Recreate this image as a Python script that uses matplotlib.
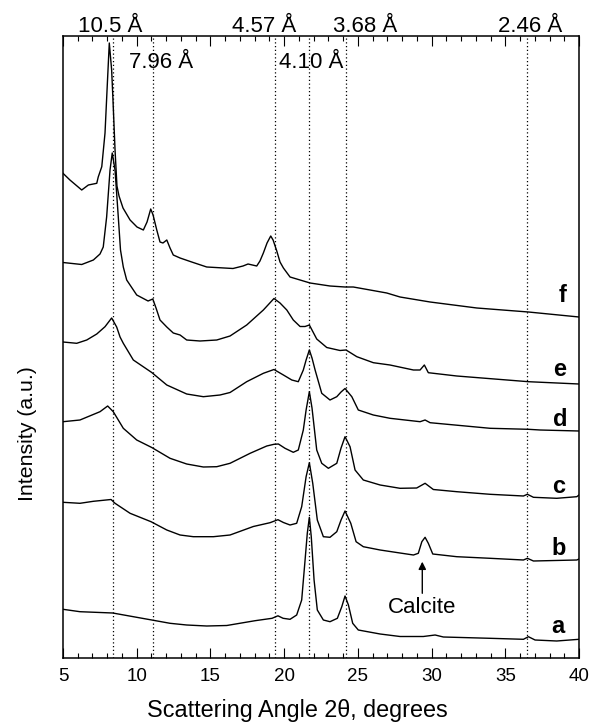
import numpy as np
import matplotlib
matplotlib.use('Agg')
import matplotlib.pyplot as plt
from matplotlib.ticker import MultipleLocator

plt.rcParams['font.family'] = ['Liberation Sans', 'DejaVu Sans']

# ── Data (intensities already stacked, a.u.) ──────────────────────────────────
tt_f = [5.0, 5.47, 6.27, 6.72, 7.29, 7.39, 7.63, 7.85, 8.01, 8.14, 8.30, 8.39, 8.53, 8.66, 8.80,
        9.07, 9.55, 10.02, 10.45, 10.70, 10.95, 11.11, 11.36, 11.58, 11.78, 12.04, 12.26, 12.48,
        12.94, 13.73, 14.75, 16.53, 17.21, 17.55, 18.14, 18.36, 18.59, 18.84, 19.09, 19.25, 19.50,
        19.72, 19.95, 20.40, 21.08, 21.76, 23.11, 24.13, 24.69, 25.83, 26.96, 27.86, 29.90, 33.07,
        36.57, 40.0]
i_f = [484.7, 478, 468, 473, 474.7, 481, 491.3, 525, 575, 615, 588, 558, 508, 472, 462,
       450, 438, 431, 428, 436, 449, 443, 428, 416, 415, 418, 410, 403,
       400, 396, 391, 389.5, 392, 394, 392, 397, 405, 415, 422, 418, 407,
       396, 390, 381, 378, 375, 372, 371, 371, 368, 365, 361, 356, 350,
       346, 341]

tt_e = [5.0, 6.27, 7.06, 7.51, 7.73, 7.96, 8.19, 8.34, 8.53, 8.75, 8.90, 9.09, 9.32, 10.00, 10.45,
        10.77, 11.09, 11.31, 11.58, 12.04, 12.48, 12.94, 13.39, 14.29, 15.43, 16.33, 17.46, 18.59,
        19.31, 19.72, 20.18, 20.62, 21.08, 21.42, 21.71, 22.21, 22.89, 23.79, 24.20, 24.93, 26.05,
        27.18, 28.77, 29.22, 29.51, 29.78, 31.71, 36.57, 40.0]
i_e = [395.5, 393.5, 398, 404, 411, 441, 488, 505, 488, 441, 408, 391, 378, 363, 359.5,
       357, 359, 350, 338, 331, 325, 323, 318, 317, 318, 322, 333, 348,
       359.5, 355, 348, 338, 331.5, 331.5, 333, 319, 310.5, 307.5, 308, 301.3, 295.3,
       293, 288, 288, 293, 285.3, 282, 276.3, 274]

tt_d = [5.0, 5.93, 6.61, 7.29, 7.85, 8.30, 8.64, 8.87, 9.09, 9.77, 11.02, 12.04, 13.39, 14.52,
        15.65, 16.33, 17.46, 18.59, 19.31, 19.95, 20.52, 20.96, 21.30, 21.49, 21.71, 21.89, 22.10,
        22.55, 23.11, 23.57, 23.86, 24.13, 24.59, 25.03, 26.05, 27.18, 29.22, 29.56, 29.90, 33.97,
        36.57, 37.36, 40.0]
i_d = [316, 314.7, 318, 324, 331.3, 340, 331, 321, 314.7, 298, 285.5, 273, 264, 261.3,
       263, 265.5, 276.3, 284.7, 288.5, 283, 278, 276.3, 288, 298, 308, 300, 288,
       264.7, 258, 261.3, 266, 269.5, 261.3, 248, 243, 239.7, 236.3, 238, 235.3, 229.7,
       228.7, 228, 227]

tt_c = [5.0, 6.15, 7.51, 8.03, 8.41, 9.09, 10.00, 11.02, 12.26, 13.39, 14.52, 15.43, 16.33, 17.69,
        18.82, 19.31, 19.61, 20.06, 20.62, 20.96, 21.30, 21.49, 21.71, 21.89, 22.21, 22.55, 23.00,
        23.57, 23.86, 24.13, 24.47, 24.81, 25.37, 26.51, 27.86, 28.99, 29.56, 30.12, 31.71, 33.97,
        36.23, 36.50, 36.91, 38.49, 39.85, 40.0]
i_c = [236.3, 238, 246.3, 252, 246.3, 229.7, 218, 210.5, 199.7, 194, 191, 191.3, 194.7, 204.7,
       212, 213.7, 214, 209.7, 205.7, 208, 228, 248, 266.3, 250, 208, 194.7, 189.7,
       194.7, 210, 221.3, 211.3, 188, 178, 173, 169.7, 170, 174.7, 168.5, 166.3, 163.7,
       162, 163.7, 160.7, 159.7, 161.3, 163]

tt_b = [5.0, 6.15, 7.06, 8.26, 8.53, 9.55, 10.97, 12.04, 12.94, 13.84, 15.20, 16.33, 17.91, 19.04,
        19.58, 19.95, 20.40, 20.85, 21.19, 21.49, 21.71, 21.94, 22.25, 22.66, 23.11, 23.57, 23.86,
        24.13, 24.52, 24.88, 25.37, 26.51, 27.86, 28.77, 29.10, 29.34, 29.56, 29.78, 30.08, 31.71,
        33.97, 36.23, 36.50, 36.91, 39.85, 40.0]
i_b = [155.7, 154.7, 156.7, 158.5, 154.7, 144.7, 136.3, 128, 123, 121.3, 121.3, 123, 131.5, 135.3,
       138.3, 135.5, 133, 134.7, 151.3, 181.3, 195.3, 174.7, 138, 121.3, 120.7, 126.3, 138,
       147, 134.7, 116.3, 111.3, 108, 105, 103, 104.7, 116.3, 120.7, 114.7, 104, 101.3,
       99.7, 98, 99.7, 97, 98, 99]

tt_a = [5.0, 6.15, 8.37, 9.77, 11.02, 12.26, 13.39, 14.75, 16.11, 18.03, 19.18, 19.58, 19.93, 20.40,
        20.85, 21.19, 21.42, 21.57, 21.71, 21.84, 22.03, 22.25, 22.66, 23.11, 23.61, 23.91, 24.13,
        24.36, 24.65, 25.03, 26.51, 27.86, 29.44, 30.24, 30.80, 33.97, 36.23, 36.57, 37.02, 38.49,
        40.0]
i_a = [48.7, 46.3, 45, 41.3, 38, 34.7, 33, 32, 32.5, 37.3, 39.7, 42.2, 39.7, 38.7,
       43, 58, 98, 124.7, 140.7, 121.3, 78, 48, 38, 36.3, 39.7, 51.3, 62,
       53, 34.7, 28, 24, 21.5, 21.5, 23, 21, 19.7, 18.7, 21.3, 18, 17,
       18.7]

curve_labels = ['a', 'b', 'c', 'd', 'e', 'f']
label_pos_x = [38.6, 38.6, 38.6, 38.7, 38.7, 38.9]
label_pos_y = [31.3, 109.7, 171.3, 239, 289, 362.7]

# d-spacings marked with dotted lines (Cu K-alpha)
d_spacings = [10.5, 7.96, 4.57, 4.10, 3.68, 2.46]
WAVELENGTH = 1.5406
two_theta_marks = [2 * np.degrees(np.arcsin(WAVELENGTH / (2 * d))) for d in d_spacings]

# ── Plot ──────────────────────────────────────────────────────────────────────
fig = plt.figure(figsize=(5.91, 7.26), dpi=100)
ax = fig.add_axes([63 / 591, 68 / 726, 516 / 591, 622 / 726])

curves = [(tt_a, i_a), (tt_b, i_b), (tt_c, i_c), (tt_d, i_d), (tt_e, i_e), (tt_f, i_f)]
for (tt, ii) in curves:
    ax.plot(tt, ii, color='black', lw=1.0, solid_joinstyle='round')

for tt in two_theta_marks:
    ax.axvline(tt, color='black', lw=0.9, linestyle=(0, (1, 2)))

for lbl, x, y in zip(curve_labels, label_pos_x, label_pos_y):
    ax.text(x, y, lbl, fontsize=17, fontweight='bold', ha='center', va='center')

# d-spacing labels: top row above the frame, second row just inside
top_row = [(8.19, '10.5 Å'), (18.67, '4.57 Å'), (25.49, '3.68 Å'), (36.68, '2.46 Å')]
for x, s in top_row:
    ax.text(x, 625.5, s, fontsize=16, ha='center', va='baseline', clip_on=False)
inner_row = [(11.65, '7.96 Å'), (21.82, '4.10 Å')]
for x, s in inner_row:
    ax.text(x, 589.7, s, fontsize=16, ha='center', va='baseline')

# calcite marker on curve b
ax.annotate('', xy=(29.37, 96.3), xytext=(29.37, 64.7),
            arrowprops=dict(arrowstyle='-|>', color='black', lw=1.0,
                            mutation_scale=11, shrinkA=0, shrinkB=0))
ax.text(29.38, 50.7, 'Calcite', fontsize=16, ha='center', va='center')

ax.set_xlim(5, 40)
ax.set_ylim(0, 622)
ax.xaxis.set_major_locator(MultipleLocator(5))
ax.xaxis.set_minor_locator(MultipleLocator(1))
ax.tick_params(axis='x', which='both', direction='in', top=True, bottom=True,
               labelsize=13.5, pad=7)
ax.tick_params(axis='x', which='major', length=7, width=0.8)
ax.tick_params(axis='x', which='minor', length=3.5, width=0.8)
ax.set_yticks([])
for sp in ax.spines.values():
    sp.set_linewidth(1.1)

ax.set_xlabel('Scattering Angle 2θ, degrees', fontsize=16.8)
ax.xaxis.set_label_coords(0.4545, -0.066)
ax.set_ylabel('Intensity (a.u.)', fontsize=15.3)
ax.yaxis.set_label_coords(-0.050, 0.361)

plt.savefig('out.png', dpi=100)
plt.close()
